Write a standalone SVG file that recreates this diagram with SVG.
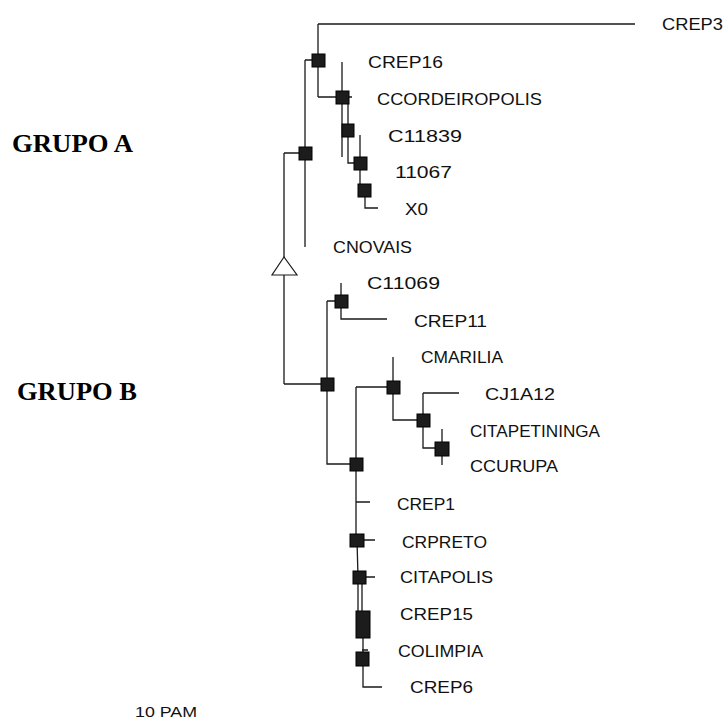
<svg xmlns="http://www.w3.org/2000/svg" width="725" height="725" viewBox="0 0 725 725">
<style>
.ln{stroke:#1a1a1a;stroke-width:1.3;fill:none}
.bx{fill:#1c1c1c;stroke:#000;stroke-width:1}
.lb{font-family:"Liberation Sans",Arial,sans-serif;font-size:17px;fill:#111}
.gr{font-family:"Liberation Serif","Times New Roman",serif;font-size:26px;font-weight:bold;fill:#000}
.sc{font-family:"Liberation Sans",Arial,sans-serif;font-size:14px;fill:#111}
.tri{fill:#fff;stroke:#1a1a1a;stroke-width:1.2}
</style>
<rect width="725" height="725" fill="#fff"/>
<g id="connectors">
<path class="ln" d="M284,153 V384 M284,153 H305 M305,60 V247 M305,60 H318 M318,24 V97 M318,24 H635 M318,97 H342 M342,62 V157 M342,97 H352 M348,97 V163 H360 M360,135 V197 M365,190 V208 H378"/>
<path class="ln" d="M284,384 H327 M327,301 V464 H356 M327,301 H341 M341,283 V319 H387 M356,387 H393 M393,357 V420 H423 M423,393 V448 H442 M423,393 H459 M442,429 V465"/>
<path class="ln" d="M356,387 V540 M357,540 L358,577 M358,577 V615 M362,577 V615 M363,615 V658 M363,658 V687 H382 M356,502 H370 M357,540 H375 M359,577 H375 M363,613 H370 M362,650 H368"/>
</g>
<g id="root"><polygon class="tri" points="284,257 272,275 297,275"/></g>
<g id="n1"><rect class="bx" x="299" y="147" width="13" height="13"/></g>
<g id="n2"><rect class="bx" x="312" y="54" width="13" height="13"/></g>
<g id="n3"><rect class="bx" x="336" y="91" width="13" height="13"/></g>
<g id="n4"><rect class="bx" x="342" y="124" width="12" height="13"/></g>
<g id="n5"><rect class="bx" x="354" y="157" width="13" height="13"/></g>
<g id="n6"><rect class="bx" x="358" y="184" width="13" height="13"/></g>
<g id="n7"><rect class="bx" x="321" y="378" width="13" height="13"/></g>
<g id="n8"><rect class="bx" x="335" y="295" width="13" height="13"/></g>
<g id="n9"><rect class="bx" x="350" y="458" width="13" height="13"/></g>
<g id="n10"><rect class="bx" x="387" y="381" width="13" height="13"/></g>
<g id="n11"><rect class="bx" x="417" y="414" width="13" height="13"/></g>
<g id="n12"><rect class="bx" x="435" y="442" width="14" height="14"/></g>
<g id="n13"><rect class="bx" x="350" y="534" width="14" height="13"/></g>
<g id="n14"><rect class="bx" x="353" y="571" width="13" height="13"/></g>
<g id="n15"><rect class="bx" x="356" y="611" width="14" height="27"/></g>
<g id="n16"><rect class="bx" x="356" y="652" width="13" height="14"/></g>
<g id="leaf-crep3"><text class="lb" x="662" y="30" textLength="61" lengthAdjust="spacingAndGlyphs">CREP3</text></g>
<g id="leaf-crep16"><text class="lb" x="368" y="68" textLength="75" lengthAdjust="spacingAndGlyphs">CREP16</text></g>
<g id="leaf-ccordeiropolis"><text class="lb" x="377" y="105" textLength="165" lengthAdjust="spacingAndGlyphs">CCORDEIROPOLIS</text></g>
<g id="leaf-c11839"><text class="lb" x="388" y="142" textLength="74" lengthAdjust="spacingAndGlyphs">C11839</text></g>
<g id="leaf-11067"><text class="lb" x="395" y="178" textLength="57" lengthAdjust="spacingAndGlyphs">11067</text></g>
<g id="leaf-x0"><text class="lb" x="405" y="215" textLength="23" lengthAdjust="spacingAndGlyphs">X0</text></g>
<g id="leaf-cnovais"><text class="lb" x="333" y="253" textLength="79" lengthAdjust="spacingAndGlyphs">CNOVAIS</text></g>
<g id="leaf-c11069"><text class="lb" x="367" y="289" textLength="73" lengthAdjust="spacingAndGlyphs">C11069</text></g>
<g id="leaf-crep11"><text class="lb" x="414" y="327" textLength="73" lengthAdjust="spacingAndGlyphs">CREP11</text></g>
<g id="leaf-cmarilia"><text class="lb" x="421" y="363" textLength="82" lengthAdjust="spacingAndGlyphs">CMARILIA</text></g>
<g id="leaf-cj1a12"><text class="lb" x="485" y="400" textLength="70" lengthAdjust="spacingAndGlyphs">CJ1A12</text></g>
<g id="leaf-citapetininga"><text class="lb" x="470" y="437" textLength="130" lengthAdjust="spacingAndGlyphs">CITAPETININGA</text></g>
<g id="leaf-ccurupa"><text class="lb" x="470" y="472" textLength="88" lengthAdjust="spacingAndGlyphs">CCURUPA</text></g>
<g id="leaf-crep1"><text class="lb" x="397" y="510" textLength="58" lengthAdjust="spacingAndGlyphs">CREP1</text></g>
<g id="leaf-crpreto"><text class="lb" x="402" y="548" textLength="85" lengthAdjust="spacingAndGlyphs">CRPRETO</text></g>
<g id="leaf-citapolis"><text class="lb" x="400" y="583" textLength="93" lengthAdjust="spacingAndGlyphs">CITAPOLIS</text></g>
<g id="leaf-crep15"><text class="lb" x="400" y="620" textLength="73" lengthAdjust="spacingAndGlyphs">CREP15</text></g>
<g id="leaf-colimpia"><text class="lb" x="398" y="657" textLength="85" lengthAdjust="spacingAndGlyphs">COLIMPIA</text></g>
<g id="leaf-crep6"><text class="lb" x="410" y="693" textLength="63" lengthAdjust="spacingAndGlyphs">CREP6</text></g>
<g id="grupo-a"><text class="gr" x="12" y="152" textLength="121" lengthAdjust="spacingAndGlyphs">GRUPO A</text></g>
<g id="grupo-b"><text class="gr" x="17" y="400" textLength="120" lengthAdjust="spacingAndGlyphs">GRUPO B</text></g>
<g id="scale"><text class="sc" x="135" y="717" textLength="62" lengthAdjust="spacingAndGlyphs">10  PAM</text></g>
</svg>
